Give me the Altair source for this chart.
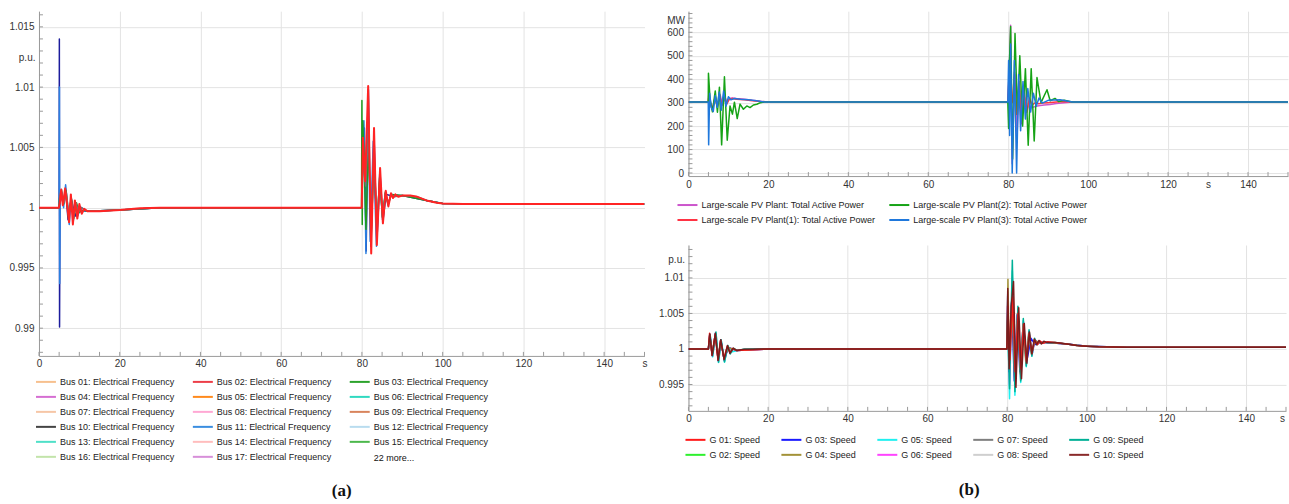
import altair as alt
import pandas as pd

FONT = "Liberation Sans"
AXIS_GRAY = "#9a9a9a"
GRID = "#e3e3e3"
LABEL = "#333333"

# ---------------- Panel (a): bus electrical frequency (p.u.) ----------------
A_X_TICKS = [0, 20, 40, 60, 80, 100, 120, 140]
A_Y_TICKS = [0.99, 0.995, 1.0, 1.005, 1.01, 1.015]
A_X_MINOR = [0, 5, 10, 15, 20, 25, 30, 35, 40, 45, 50, 55, 60, 65, 70, 75, 80, 85, 90, 95,
             100, 105, 110, 115, 120, 125, 130, 135, 140, 145, 150]
A_Y_MINOR = [0.988, 0.989, 0.99, 0.991, 0.992, 0.993, 0.994, 0.995, 0.996, 0.997, 0.998, 0.999,
             1.0, 1.001, 1.002, 1.003, 1.004, 1.005, 1.006, 1.007, 1.008, 1.009, 1.01, 1.011,
             1.012, 1.013, 1.014, 1.015, 1.016]

A_NAMES = ["Bus 01: Electrical Frequency", "Bus 02: Electrical Frequency", "Bus 03: Electrical Frequency",
           "Bus 04: Electrical Frequency", "Bus 05: Electrical Frequency", "Bus 06: Electrical Frequency",
           "Bus 07: Electrical Frequency", "Bus 08: Electrical Frequency", "Bus 09: Electrical Frequency",
           "Bus 10: Electrical Frequency", "Bus 11: Electrical Frequency", "Bus 12: Electrical Frequency",
           "Bus 13: Electrical Frequency", "Bus 14: Electrical Frequency", "Bus 15: Electrical Frequency",
           "Bus 16: Electrical Frequency", "Bus 17: Electrical Frequency"]
A_COLORS = ["#f7c08e", "#ec3e48", "#2ca32c", "#d56ed2", "#ff8a1c", "#2fd9c0", "#f6c6a6", "#ffa8d4",
            "#d8845c", "#444444", "#3a8de0", "#b9dcef", "#4fe0c8", "#ffbdbd", "#4cb84c", "#c2e4aa",
            "#d78fd9"]
A_MORE = "22 more..."

a_navy_t = [0, 5.0, 5.05, 5.1, 5.2, 5.6, 6.0, 6.6, 7.2, 8.0, 9.0, 10.0, 12.0, 20.0, 30.0, 79.95,
            80.2, 80.6, 81.05, 81.6, 82.2, 83.0, 83.7, 84.5, 85.2, 86.0, 87.2, 90.0, 96.0, 100.0, 150.0]
a_navy_v = [1.0, 1.0, 1.0140, 0.9901, 1.0003, 1.0012, 1.0002, 1.0015, 0.9990, 1.0007, 0.9993, 1.0001,
            0.9997, 0.9998, 1.0, 1.0, 1.0050, 1.0066, 0.9964, 1.0098, 0.9968, 1.0060, 0.9972, 1.0028,
            0.9989, 1.0011, 1.0010, 1.0010, 1.0006, 1.00035, 1.0003]

a_bus11_t = [0, 5.0, 5.07, 5.13, 5.25, 5.6, 6.1, 6.6, 7.1, 7.5, 8.0, 8.5, 9.0, 9.6, 10.2, 11.0, 12.0,
             20.0, 30.0, 79.95, 80.15, 80.5, 81.0, 81.5, 82.05, 82.8, 83.6, 84.4, 85.1, 85.8, 86.5,
             87.2, 89.0, 93.0, 96.0, 100.0, 150.0]
a_bus11_v = [1.0, 1.0, 1.0100, 0.9937, 1.0004, 1.0013, 1.0000, 1.0019, 1.0002, 0.9986, 1.0008, 0.9989,
             1.0004, 0.9993, 0.9999, 0.9997, 0.9997, 0.9998, 1.0, 1.0, 1.0035, 1.0072, 0.9962, 1.0092,
             0.9972, 1.0055, 0.9968, 1.0028, 0.9990, 1.0012, 1.0002, 1.0011, 1.0010, 1.0009, 1.0006,
             1.00035, 1.0003]

a_bus03_t = [0, 5.0, 5.1, 5.5, 6.1, 6.7, 7.3, 8.0, 8.6, 9.3, 10.0, 11.0, 12.0, 20.0, 30.0, 79.9, 80.0,
             80.08, 80.2, 80.45, 81.0, 81.6, 82.3, 83.0, 83.7, 84.4, 85.1, 85.8, 86.5, 87.3, 90.0,
             96.0, 100.0, 150.0]
a_bus03_v = [1.0, 1.0, 1.0008, 1.0012, 1.0003, 1.0014, 0.9992, 1.0008, 0.9991, 1.0004, 0.9996, 0.9998,
             0.9997, 0.9998, 1.0, 1.0, 1.0089, 0.9986, 1.0072, 1.0050, 0.9982, 1.0055, 0.9978, 1.0045,
             0.9982, 1.0025, 0.9992, 1.0013, 1.0003, 1.0011, 1.0010, 1.0006, 1.00035, 1.0003]

a_bus10_t = [0, 5.0, 5.2, 5.6, 6.2, 6.8, 7.4, 8.0, 8.6, 9.2, 9.8, 10.5, 12.0, 20.0, 30.0, 79.95, 80.3,
             80.9, 81.6, 82.3, 83.0, 83.7, 84.4, 85.1, 85.8, 86.5, 87.2, 88.0, 90.0, 93.7, 96.0,
             100.0, 150.0]
a_bus10_v = [1.0, 1.0, 1.0010, 1.0015, 1.0004, 1.0012, 0.9994, 1.0008, 0.9993, 1.0004, 0.9996, 1.0000,
             0.9997, 0.9998, 1.0, 1.0, 1.0040, 1.0018, 1.0062, 0.9975, 1.0048, 0.9980, 1.0025, 0.9992,
             1.0012, 1.0003, 1.0011, 1.0009, 1.0010, 1.0009, 1.0006, 1.00035, 1.0003]

a_bus02_t = [0, 4.95, 5.15, 5.5, 5.9, 6.5, 7.0, 7.45, 7.9, 8.4, 8.9, 9.5, 10.0, 10.6, 11.2, 12.0, 15.0,
             20.0, 25.0, 30.0, 79.95, 80.25, 80.8, 81.55, 82.3, 83.0, 83.7, 84.5, 85.2, 85.9, 86.55,
             87.2, 87.7, 88.3, 89.0, 90.0, 92.0, 93.7, 96.0, 98.5, 100.0, 105.0, 150.0]
a_bus02_v = [1.0, 1.0, 1.0004, 1.0015, 1.0002, 1.0016, 1.0001, 0.9988, 1.0011, 0.9986, 1.0006, 0.9991,
             1.0003, 0.9995, 0.9999, 0.9997, 0.9997, 0.9998, 0.99995, 1.0, 1.0, 1.0058, 1.0022, 1.0101,
             0.9962, 1.0066, 0.9969, 1.0033, 0.9987, 1.0014, 1.0001, 1.0012, 1.0008, 1.0011, 1.0009,
             1.0010, 1.0010, 1.0009, 1.0006, 1.0004, 1.00035, 1.0003, 1.0003]

# ---------------- Panel (b, top): PV plant active power (MW) ----------------
BT_X_TICKS = [0, 20, 40, 60, 80, 100, 120, 140]
BT_Y_TICKS = [0, 100, 200, 300, 400, 500, 600]
BT_Y_MINOR = [0, 20, 40, 60, 80, 100, 120, 140, 160, 180, 200, 220, 240, 260, 280, 300, 320, 340,
              360, 380, 400, 420, 440, 460, 480, 500, 520, 540, 560, 580, 600, 620, 640, 660, 680]
BT_NAMES = ["Large-scale PV Plant: Total Active Power", "Large-scale PV Plant(1): Total Active Power",
            "Large-scale PV Plant(2): Total Active Power", "Large-scale PV Plant(3): Total Active Power"]
BT_COLORS = ["#cc55cc", "#ff3344", "#16a316", "#1f78dc"]

bt_pv_t = [0, 4.95, 5.05, 5.5, 6.1, 6.7, 7.3, 7.9, 8.5, 9.1, 9.7, 10.3, 11.0, 12.0, 14.0, 16.0, 18.0,
           20.0, 79.9, 80.2, 80.6, 81.0, 81.6, 82.2, 82.8, 83.4, 84.0, 84.7, 85.4, 86.1, 87.0, 88.0,
           89.0, 90.5, 92.0, 94.0, 96.0, 150.0]
bt_pv_v = [303, 303, 320, 300, 275, 325, 285, 335, 290, 325, 300, 318, 320, 318, 315, 310, 306, 303,
           303, 400, 630, 40, 420, 160, 380, 230, 350, 260, 310, 280, 285, 288, 290, 292, 296, 300, 303,
           303]

bt_pv1_t = [0, 4.95, 5.05, 5.4, 6.0, 6.6, 7.2, 7.8, 8.4, 9.0, 9.6, 10.2, 11.0, 12.0, 14.0, 16.0,
            18.0, 20.0, 79.9, 80.15, 80.5, 81.0, 81.6, 82.1, 82.7, 83.3, 83.9, 84.6, 85.3, 86.0, 86.8,
            87.6, 88.5, 90.0, 92.0, 94.0, 96.0, 150.0]
bt_pv1_v = [303, 303, 330, 300, 270, 320, 285, 330, 290, 320, 295, 315, 318, 314, 312, 308, 305, 303,
            303, 400, 330, 300, 430, 250, 390, 210, 340, 260, 320, 290, 300, 295, 298, 300, 303, 305,
            303, 303]

bt_pv2_t = [0, 4.95, 5.0, 5.4, 6.0, 6.7, 7.25, 7.75, 8.3, 9.0, 9.7, 10.4, 11.0, 11.5, 12.2, 12.9,
            13.75, 14.6, 15.4, 16.25, 17.1, 18.0, 19.0, 79.9, 80.1, 80.3, 80.6, 81.1, 81.7, 82.3, 82.9,
            83.6, 84.3, 85.0, 85.75, 86.5, 87.2, 88.2, 89.7, 90.5, 91.7, 92.6, 94.0, 96.0, 150.0]
bt_pv2_v = [303, 303, 425, 315, 261, 350, 259, 366, 120, 410, 140, 286, 251, 302, 232, 294, 272, 286,
            279, 290, 293, 300, 303, 303, 190, 470, 625, 60, 595, 250, 500, 200, 445, 118, 445, 137,
            407, 300, 355, 308, 318, 305, 310, 303, 303]

bt_pv3_t = [0, 4.95, 5.05, 5.3, 5.7, 6.2, 6.7, 7.2, 7.7, 8.2, 8.8, 9.4, 10.0, 10.6, 11.5, 13.0, 15.0,
            17.0, 19.0, 79.9, 80.1, 80.35, 80.6, 81.0, 81.55, 82.1, 82.6, 83.1, 83.7, 84.3, 84.9, 85.6,
            86.3, 87.0, 87.7, 88.5, 90.0, 93.0, 96.0, 150.0]
bt_pv3_v = [303, 303, 120, 340, 280, 262, 330, 280, 345, 268, 350, 285, 325, 312, 318, 315, 312, 308,
            303, 303, 480, 160, 550, 0, 480, 0, 420, 180, 390, 230, 360, 260, 340, 285, 320, 298, 310,
            312, 303, 303]

# ---------------- Panel (b, bottom): generator speed (p.u.) ----------------
BB_X_TICKS = [0, 20, 40, 60, 80, 100, 120, 140]
BB_Y_TICKS = [0.995, 1.0, 1.005, 1.01]
BB_Y_MINOR = [0.992, 0.993, 0.994, 0.995, 0.996, 0.997, 0.998, 0.999, 1.0, 1.001, 1.002, 1.003,
              1.004, 1.005, 1.006, 1.007, 1.008, 1.009, 1.01, 1.011, 1.012, 1.013, 1.014]
BB_NAMES = ["G 01: Speed", "G 02: Speed", "G 03: Speed", "G 04: Speed", "G 05: Speed",
            "G 06: Speed", "G 07: Speed", "G 08: Speed", "G 09: Speed", "G 10: Speed"]
BB_COLORS = ["#ff1a1a", "#2ef02e", "#1a1aff", "#a39238", "#1ff0f0",
             "#ff44ff", "#7f7f7f", "#cfcfcf", "#00b096", "#8a2a2a"]

bb_g05_t = [0, 5.0, 5.45, 6.05, 6.9, 7.55, 8.2, 9.05, 9.9, 11.0, 14.0, 20.0, 79.95, 80.1, 80.6, 81.3,
            81.95, 82.7, 83.4, 84.05, 84.8, 85.5, 86.2, 87.0, 88.0, 90.0, 95.0, 100.0, 110.0, 150.0]
bb_g05_v = [1.0, 1.0, 1.0019, 0.9989, 1.0022, 0.9981, 1.0012, 0.99815, 1.0004, 0.9996, 0.99995, 1.0,
            1.0, 1.0050, 0.9930, 1.0110, 0.9935, 1.0055, 0.9953, 1.0040, 0.9975, 1.0025, 0.9990,
            1.0013, 1.0008, 1.0009, 1.0007, 1.0004, 1.00025, 1.00025]

bb_g06_t = [0, 5.0, 5.4, 6.0, 6.85, 7.5, 8.15, 9.0, 10.0, 12.0, 20.0, 79.95, 80.1, 80.6, 81.3, 81.95,
            82.7, 83.4, 84.1, 84.8, 85.5, 86.2, 87.0, 88.0, 90.0, 95.0, 100.0, 110.0, 150.0]
bb_g06_v = [1.0, 1.0, 1.0020, 0.9990, 1.0021, 0.9983, 1.0012, 0.9984, 1.0002, 0.9998, 1.0, 1.0,
            1.0060, 0.9950, 1.0100, 0.9948, 1.0052, 0.9960, 1.0038, 0.9978, 1.0024, 0.9991, 1.0012,
            1.0009, 1.0009, 1.0007, 1.0004, 1.00025, 1.00025]

bb_g03_t = [0, 5.0, 5.35, 5.95, 6.75, 7.45, 8.1, 8.95, 10.0, 12.0, 20.0, 79.95, 80.15, 80.5, 81.1,
            81.8, 82.5, 83.2, 84.0, 85.0, 86.0, 87.0, 88.0, 90.0, 95.0, 100.0, 110.0, 150.0]
bb_g03_v = [1.0, 1.0, 1.0021, 0.9991, 1.0022, 0.9984, 1.0013, 0.9985, 1.0002, 0.9998, 1.0, 1.0,
            1.0080, 0.9968, 1.0065, 0.9955, 1.0048, 0.9968, 1.0032, 0.9985, 1.0015, 1.0006, 1.0009,
            1.0009, 1.0007, 1.0004, 1.00025, 1.00025]

bb_g04_t = [0, 5.0, 5.35, 5.95, 6.75, 7.45, 8.1, 8.95, 10.0, 12.0, 20.0, 79.95, 80.2, 80.55, 81.2,
            81.9, 82.6, 83.3, 84.0, 84.7, 85.4, 86.1, 87.0, 88.0, 90.0, 95.0, 100.0, 110.0, 150.0]
bb_g04_v = [1.0, 1.0, 1.0020, 0.9991, 1.0021, 0.9985, 1.0012, 0.9986, 1.0002, 0.9998, 1.0, 1.0,
            1.0098, 0.9975, 1.0070, 0.9955, 1.0050, 0.9965, 1.0035, 0.9980, 1.0022, 0.9993, 1.0012,
            1.0009, 1.0009, 1.0007, 1.0004, 1.00025, 1.00025]

bb_g09_t = [0, 5.0, 5.45, 6.05, 6.9, 7.55, 8.2, 9.05, 9.9, 10.5, 11.3, 12.2, 14.0, 20.0, 79.95, 80.1,
            80.6, 81.3, 81.95, 82.7, 83.4, 84.05, 84.8, 85.5, 86.2, 86.9, 87.5, 88.1, 88.7, 89.3, 90.0,
            92.0, 95.0, 97.5, 100.0, 103.0, 110.0, 150.0]
bb_g09_v = [1.0, 1.0, 1.0020, 0.9990, 1.0024, 0.99815, 1.0013, 0.9982, 1.0005, 0.9993, 1.0001, 0.9998,
            0.99995, 1.0, 1.0, 1.0040, 0.9944, 1.0125, 0.9940, 1.0060, 0.9955, 1.0043, 0.9976, 1.0027,
            0.9990, 1.0015, 1.0006, 1.0011, 1.0008, 1.0010, 1.0009, 1.0009, 1.0007, 1.0005, 1.0004,
            1.0003, 1.00025, 1.00025]

bb_g01_t = [0, 5.0, 5.3, 5.9, 6.7, 7.4, 8.05, 8.9, 9.75, 10.4, 11.2, 12.0, 20.0, 79.95, 80.2, 80.7,
            81.4, 82.0, 82.7, 83.4, 84.1, 84.8, 85.5, 86.2, 86.9, 87.6, 88.3, 89.0, 90.0, 92.0, 95.0,
            97.5, 100.0, 103.0, 110.0, 150.0]
bb_g01_v = [1.0, 1.0, 1.0022, 0.9992, 1.0020, 0.9985, 1.0012, 0.9987, 1.0004, 0.9995, 1.0001, 0.9998,
            1.0, 1.0, 1.0060, 0.9985, 1.0073, 0.9968, 1.0050, 0.9972, 1.0035, 0.9982, 1.0022, 0.9994,
            1.0013, 1.0006, 1.0011, 1.0008, 1.0010, 1.0009, 1.0007, 1.0005, 1.0004, 1.0003, 1.00025,
            1.00025]

bb_g10_t = [0, 5.0, 5.35, 5.95, 6.75, 7.45, 8.1, 8.95, 9.8, 10.4, 11.2, 12.1, 14.0, 20.0, 79.95, 80.15,
            80.5, 81.0, 81.6, 82.2, 82.9, 83.6, 84.3, 84.95, 85.6, 86.2, 86.8, 87.4, 88.0, 88.6, 89.2,
            90.0, 92.0, 95.0, 97.5, 100.0, 103.0, 110.0, 150.0]
bb_g10_v = [1.0, 1.0, 1.0021, 0.9991, 1.0022, 0.9984, 1.0013, 0.9985, 1.0005, 0.9994, 1.0001, 0.9998,
            0.99995, 1.0, 1.0, 1.0085, 0.9972, 1.0060, 1.0095, 0.9946, 1.0058, 0.9958, 1.0036, 0.9980,
            1.0024, 0.9993, 1.0014, 1.0006, 1.0012, 1.0007, 1.0011, 1.0009, 1.0009, 1.0007, 1.0005,
            1.0004, 1.0003, 1.00025, 1.00025]

CAPTIONS = ["(a)", "(b)"]

# ---------------- helpers ----------------
A_W, A_H = 606, 345
BT_W, BT_H = 600, 165
BB_W, BB_H = 598, 166


def axis_x(title_x, values):
    return alt.Axis(values=values, format="d", title="s", titleX=title_x, titleY=3, titleAlign="center",
                    titleBaseline="top", titleAngle=0, titleFontWeight="normal", titleFontSize=10,
                    titleColor=LABEL, ticks=False, tickSize=0, labelPadding=3, labelFlush=False,
                    labelOverlap=False, grid=True)


def axis_y(title, title_y, values, fmt):
    return alt.Axis(values=values, format=fmt, title=title, titleX=-4, titleY=title_y, titleAlign="right",
                    titleBaseline="middle", titleAngle=0, titleFontWeight="normal", titleFontSize=10,
                    titleColor=LABEL, ticks=False, tickSize=0, labelPadding=5, labelOverlap=False, grid=True)


def build_panel(xenc, yenc, series, names, colors, legend, width, height, x_minor, y_minor, extras):
    layers = []
    # minor inward ticks
    layers.append(alt.Chart(pd.DataFrame({"t": x_minor})).mark_rule(color=AXIS_GRAY, strokeWidth=1).encode(
        x=xenc, y=alt.value(height), y2=alt.value(height - 4)))
    layers.append(alt.Chart(pd.DataFrame({"v": y_minor})).mark_rule(color=AXIS_GRAY, strokeWidth=1).encode(
        y=yenc, x=alt.value(0), x2=alt.value(4)))
    for t, v, c, w in series:
        layers.append(alt.Chart(pd.DataFrame({"t": t, "v": v})).mark_line(
            color=c, strokeWidth=w, clip=True, strokeJoin="round").encode(x=xenc, y=yenc))
    # legend-only layer (single invisible point per entry)
    leg_df = pd.DataFrame({"name": names, "t": [-50.0] * len(names), "v": [0.0] * len(names)})
    layers.append(alt.Chart(leg_df).mark_line(strokeWidth=2, clip=True).encode(
        x=xenc, y=yenc,
        color=alt.Color("name:N", scale=alt.Scale(domain=names, range=colors), legend=legend)))
    layers.extend(extras)
    return alt.layer(*layers).properties(width=width, height=height)


def make_legend(cols, lx, ly, colpad, direction):
    return alt.Legend(orient="none", legendX=lx, legendY=ly, columns=cols, direction=direction, title=None,
                      symbolType="M-2,0H2", symbolSize=100, symbolStrokeWidth=2, labelFontSize=9,
                      labelFont=FONT, labelColor="#222222", labelOffset=8, columnPadding=colpad,
                      rowPadding=4, padding=0, labelLimit=400, symbolOffset=0)


def text_layer(label, x, y, size, weight, font, align):
    return alt.Chart(pd.DataFrame({"label": [label]})).mark_text(
        fontSize=size, fontWeight=weight, font=font, align=align, baseline="middle", color="#111111"
    ).encode(text="label:N", x=alt.value(x), y=alt.value(y))


# ---- panel a ----
ax = alt.X("t:Q", scale=alt.Scale(domain=[0, 150], nice=False, zero=False), axis=axis_x(A_W, A_X_TICKS))
ay = alt.Y("v:Q", scale=alt.Scale(domain=[0.9877, 1.0163], nice=False, zero=False),
           axis=axis_y("p.u.", 46, A_Y_TICKS, "~g"))
panel_a = build_panel(
    ax, ay,
    [(a_navy_t, a_navy_v, "#1c1c9c", 1.5),
     (a_bus11_t, a_bus11_v, "#2a7fe0", 1.5),
     (a_bus03_t, a_bus03_v, "#1e9a1e", 1.5),
     (a_bus10_t, a_bus10_v, "#7a7070", 1.5),
     (a_bus02_t, a_bus02_v, "#ff2424", 2.0)],
    A_NAMES, A_COLORS, make_legend(3, 1, 365, 14, "horizontal"), A_W, A_H, A_X_MINOR, A_Y_MINOR,
    [text_layer(A_MORE, 335, 447, 9, "normal", FONT, "left"),
     text_layer(CAPTIONS[0], 303, 480, 17, "bold", "Liberation Serif", "center")])

# ---- panel b top ----
btx = alt.X("t:Q", scale=alt.Scale(domain=[0, 150], nice=False, zero=False), axis=axis_x(520, BT_X_TICKS))
bty = alt.Y("v:Q", scale=alt.Scale(domain=[-13, 690], nice=False, zero=False),
            axis=axis_y("MW", 9, BT_Y_TICKS, "d"))
panel_bt = build_panel(
    btx, bty,
    [(bt_pv_t, bt_pv_v, "#cc55cc", 1.5),
     (bt_pv1_t, bt_pv1_v, "#ff3344", 1.5),
     (bt_pv2_t, bt_pv2_v, "#16a316", 1.5),
     (bt_pv3_t, bt_pv3_v, "#1f78dc", 1.5)],
    BT_NAMES, BT_COLORS, make_legend(2, -7, 188, 9, "vertical"), BT_W, BT_H, A_X_MINOR, BT_Y_MINOR, [])

# ---- panel b bottom ----
bbx = alt.X("t:Q", scale=alt.Scale(domain=[0, 150], nice=False, zero=False), axis=axis_x(BB_W - 4, BB_X_TICKS))
bby = alt.Y("v:Q", scale=alt.Scale(domain=[0.99129, 1.01463], nice=False, zero=False),
            axis=axis_y("p.u.", 15, BB_Y_TICKS, "~g"))
panel_bb = build_panel(
    bbx, bby,
    [(bb_g05_t, bb_g05_v, "#1ff0f0", 1.5),
     (bb_g06_t, bb_g06_v, "#ff44ff", 1.5),
     (bb_g03_t, bb_g03_v, "#1a1aff", 1.5),
     (bb_g04_t, bb_g04_v, "#a39238", 1.5),
     (bb_g09_t, bb_g09_v, "#00b096", 1.5),
     (bb_g01_t, bb_g01_v, "#ff1a1a", 1.5),
     (bb_g10_t, bb_g10_v, "#7a1c1c", 1.5)],
    BB_NAMES, BB_COLORS, make_legend(5, 1, 189, 17, "vertical"), BB_W, BB_H, A_X_MINOR, BB_Y_MINOR,
    [text_layer(CAPTIONS[1], 281, 245, 17, "bold", "Liberation Serif", "center")])

right = alt.vconcat(panel_bt, panel_bb, spacing=20).resolve_scale(color="independent")
chart = alt.hconcat(panel_a, right, spacing=10).resolve_scale(color="independent").properties(
    padding={"left": 8, "top": 11, "right": 0, "bottom": 0}
).configure(font=FONT).configure_view(stroke=None).configure_axis(
    labelFont=FONT, labelFontSize=10, labelColor=LABEL, titleFont=FONT, gridColor=GRID, gridWidth=1,
    domainColor=AXIS_GRAY, domainWidth=1
)

chart.save("out.html", embed_options={"renderer": "svg", "actions": False})
